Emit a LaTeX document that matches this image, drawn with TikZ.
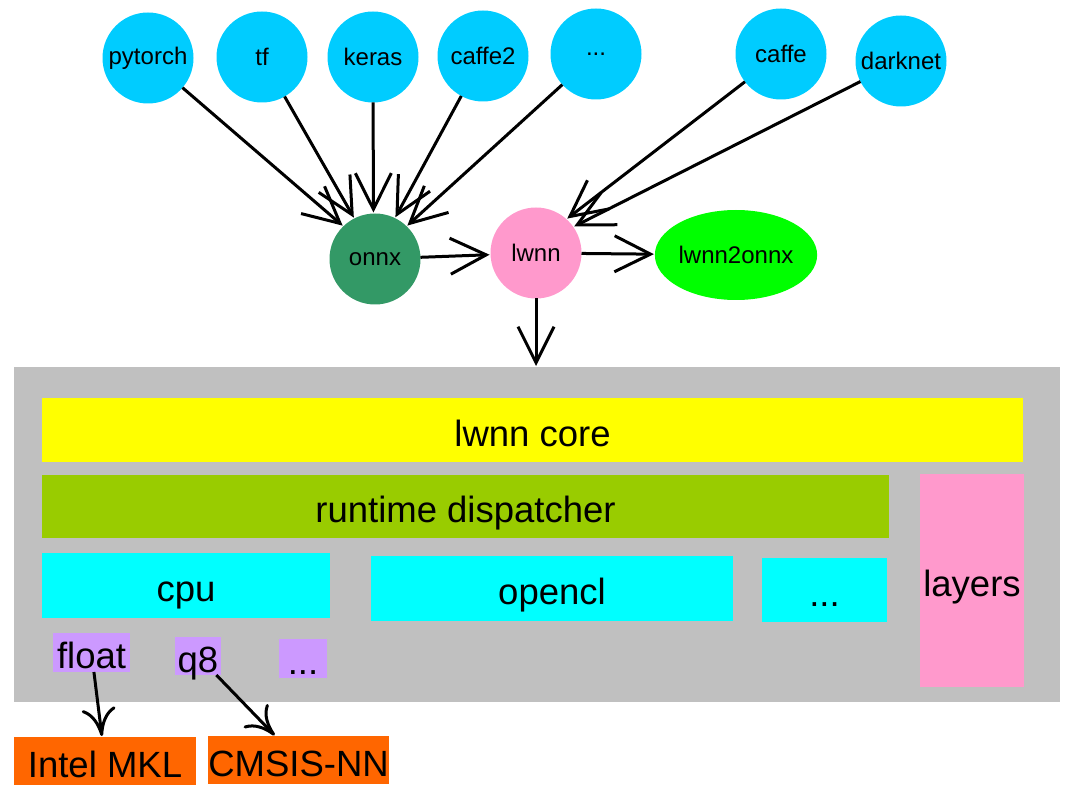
\documentclass[tikz,border=0pt]{standalone}
\usepackage{fontspec}
\setmainfont{Liberation Sans}
\usetikzlibrary{arrows.meta, positioning, shapes.geometric}

\definecolor{srcblue}{HTML}{00CCFF}
\definecolor{onnxgreen}{HTML}{339966}
\definecolor{lwnnpink}{HTML}{FF99CC}
\definecolor{convgreen}{HTML}{00FF00}
\definecolor{stackgray}{HTML}{C0C0C0}
\definecolor{coreyellow}{HTML}{FFFF00}
\definecolor{dispgreen}{HTML}{99CC00}
\definecolor{devcyan}{HTML}{00FFFF}
\definecolor{typelilac}{HTML}{CC99FF}
\definecolor{liborange}{HTML}{FF6600}

\newcommand\nodefont{\fontsize{24}{28}\selectfont}
\newcommand\boxfont{\fontsize{36.5}{44}\selectfont}

\begin{document}
\begin{tikzpicture} [%
    x = 1pt, y = -1pt,
    shorten >= 1pt,
    >= {Straight Barb[length=36pt, width=36pt]},
    line width = 3pt,
    every node/.style = {inner sep = 0pt, outer sep = 0pt},
    source/.style = {%
      circle, fill = srcblue,
      minimum size = 91pt, font = \nodefont },
    hub/.style = {%
      circle, minimum size = 91pt, font = \nodefont },
    layer/.style = {%
      rectangle, font = \boxfont,
      text height = 32pt, text depth = 0pt },
    lib/.style = {%
      -{Computer Modern Rightarrow[length=28pt, width=34pt]} }
  ]

\useasboundingbox (0,0) rectangle (1079,794);

% front ends
\node[source]  (pytorch) at (148,58)  {pytorch};
\node[source]  (tf)      at (262,57)  {tf};
\node[source]  (keras)   at (373,57)  {keras};
\node[source]  (caffe2)  at (483,56)  {caffe2};
\node[source]  (others)  at (596,54)  {...};
\node[source]  (caffe)   at (781,54)  {caffe};
\node[source]  (darknet) at (901,61)  {darknet};

\node[hub, fill = onnxgreen]  (onnx) at (375,259) {onnx};
\node[hub, fill = lwnnpink]   (lwnn) at (536,253) {lwnn};
\node[ellipse, fill = convgreen, minimum width = 137pt, minimum height = 90pt,
      font = \nodefont] (l2o) at (736,255) {lwnn2onnx};

% runtime stack
\node[layer, fill = stackgray, minimum width = 1046pt, minimum height = 335pt]
  (stack) at (537,534.5) {};
\node[layer, fill = coreyellow, minimum width = 981pt, minimum height = 64pt]
  (core) at (532.5,430) {lwnn core};
\node[layer, fill = dispgreen, minimum width = 847pt, minimum height = 63pt]
  (disp) at (465.5,506.5) {runtime dispatcher};
\node[layer, fill = lwnnpink, minimum width = 104pt, minimum height = 213pt]
  (layers) at (972,580.5) {layers};
\node[layer, fill = devcyan, minimum width = 288pt, minimum height = 65pt]
  (cpu) at (186,585.5) {cpu};
\node[layer, fill = devcyan, minimum width = 362pt, minimum height = 65pt]
  (opencl) at (552,588.5) {opencl};
\node[layer, fill = devcyan, minimum width = 125pt, minimum height = 64pt]
  (moredev) at (824.5,590) {...};
\node[layer, fill = typelilac, minimum width = 77pt, minimum height = 39pt]
  (float) at (91.5,652.5) {float};
\node[layer, fill = typelilac, minimum width = 46pt, minimum height = 38pt]
  (q8) at (198,656) {q8};
\node[layer, fill = typelilac, minimum width = 48pt, minimum height = 39pt]
  (moretype) at (303,658.5) {...};
\node[layer, fill = liborange, minimum width = 182pt, minimum height = 48pt]
  (mkl) at (105,761) {Intel MKL};
\node[layer, fill = liborange, minimum width = 181pt, minimum height = 48pt]
  (cmsis) at (298.5,760) {CMSIS-NN};

\path[->]
(pytorch) edge (onnx.134)
(tf)      edge (onnx.117)
(keras)   edge (onnx.92)
(caffe2)  edge (onnx.64)
(others)  edge (onnx.46)

(caffe)   edge (lwnn.48)
(darknet) edge (lwnn.35)

(onnx)    edge (lwnn)
(lwnn)    edge (l2o)
          edge (lwnn |- stack.north);

\path[lib]
(float) edge (mkl)
(q8)    edge (cmsis);

\end{tikzpicture}
\end{document}
